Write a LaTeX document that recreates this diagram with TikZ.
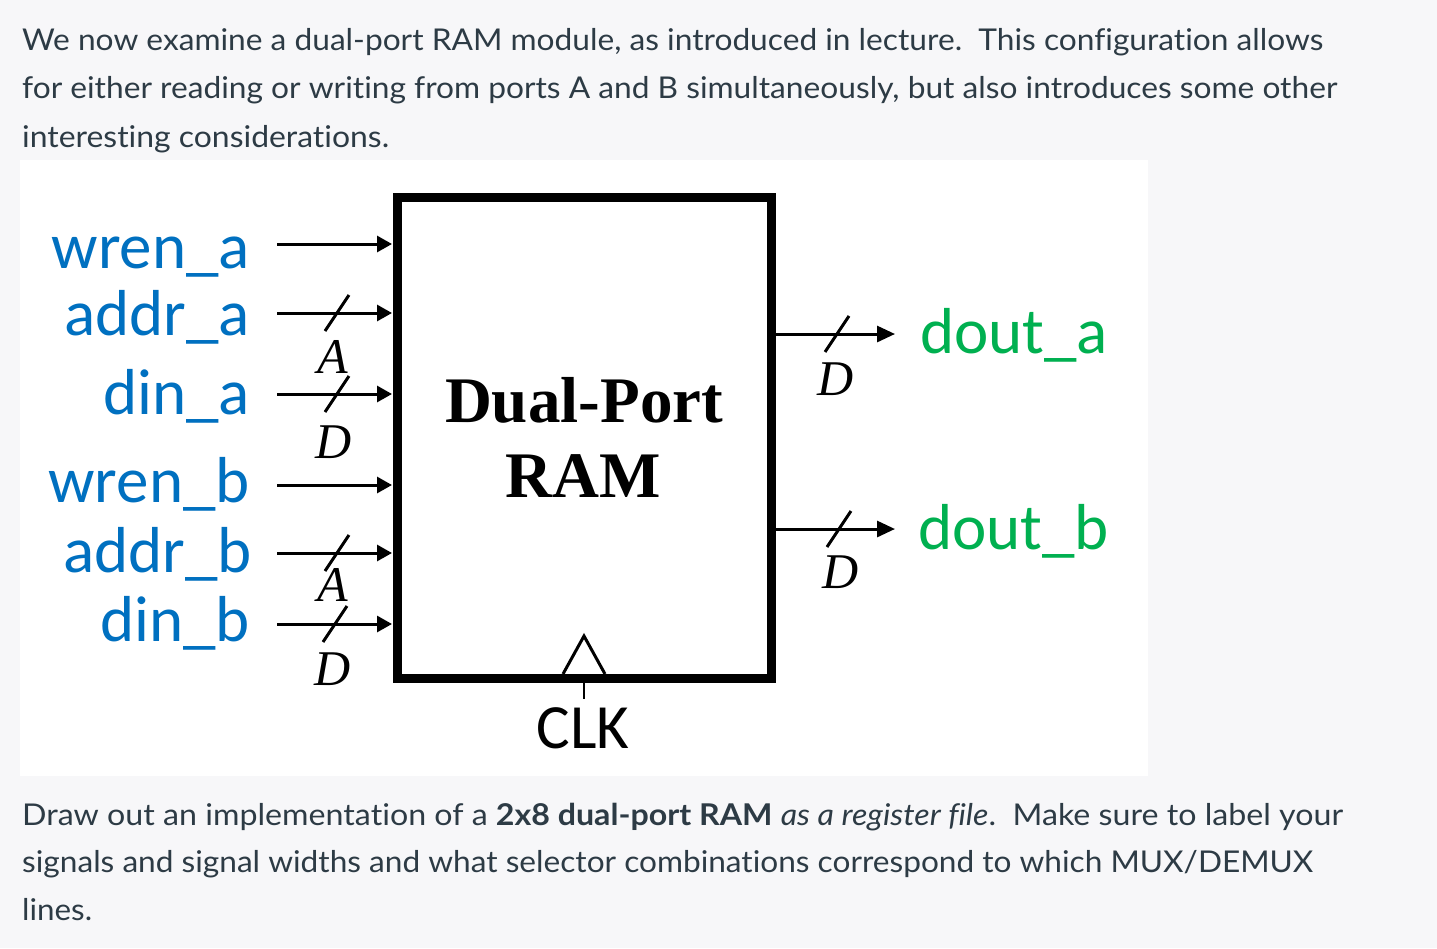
\documentclass[tikz,border=0pt]{standalone}
\usepackage{fontspec}
\usepackage{graphicx}
\setmainfont{Lato}[Ligatures={NoCommon,NoRare,NoContextual}]
\newfontfamily\calfont{Carlito}
\newfontfamily\tnrfont{Liberation Serif}
\usetikzlibrary{arrows.meta}
\definecolor{pagebg}{HTML}{F7F7F9}
\definecolor{bodytext}{HTML}{2D3B45}
\definecolor{sigblue}{HTML}{0070C0}
\definecolor{siggreen}{HTML}{00B050}
\tikzset{
  bodyline/.style={anchor=base west, inner sep=0pt, text=bodytext, font=\fontsize{30}{30}\selectfont},
  inlbl/.style={anchor=base east, inner sep=0pt, text=sigblue, font=\calfont\fontsize{65}{65}\selectfont},
  outlbl/.style={anchor=base west, inner sep=0pt, text=siggreen, font=\calfont\fontsize{65}{65}\selectfont},
  widthlbl/.style={inner sep=0pt, font=\tnrfont\itshape\fontsize{50}{50}\selectfont},
  sig/.style={line width=3pt, -{Triangle[length=15pt,width=16pt]}},
  busslash/.style={line width=3pt},
  ramedge/.style={line width=9pt},
  titletext/.style={inner sep=0pt, anchor=base, font=\tnrfont\bfseries\fontsize{65}{65}\selectfont},
}
\begin{document}
\begin{tikzpicture}[x=1pt,y=-1pt]
\useasboundingbox (0,0) rectangle (1437,948);
\fill[pagebg] (0,0) rectangle (1437,948);
\fill[white] (20,160) rectangle (1148,776);

% body text
\node[bodyline] (t1) at (22,50) {\resizebox{1301pt}{\height}{We now examine a dual-port RAM module, as introduced in lecture.\ \ This configuration allows}};
\node[bodyline] (t2) at (22,98) {\resizebox{1315pt}{\height}{for either reading or writing from ports A and B simultaneously, but also introduces some other}};
\node[bodyline] (t3) at (22,147) {\resizebox{367pt}{\height}{interesting considerations.}};
\node[bodyline] (t4) at (22,825) {\resizebox{1321pt}{\height}{Draw out an implementation of a \textbf{2x8 dual-port RAM} \textit{as a register file}.\ \ Make sure to label your}};
\node[bodyline] (t5) at (22,872) {\resizebox{1291pt}{\height}{signals and signal widths and what selector combinations correspond to which MUX/DEMUX}};
\node[bodyline] (t6) at (22,920) {\resizebox{70pt}{\height}{lines.}};

% RAM block
\draw[ramedge] (397,197) rectangle (771,678);
\node[titletext] (title1) at (584,422) {Dual-Port};
\node[titletext] (title2) at (583,497) {RAM};

% input ports
\coordinate (iwa) at (392,244);
\coordinate (iaa) at (392,313);
\coordinate (ida) at (392,394);
\coordinate (iwb) at (392,485);
\coordinate (iab) at (392,553);
\coordinate (idb) at (392,624);

\node[inlbl] (wa) at (250,268) {wren\_a};
\node[inlbl] (aa) at (250,335) {addr\_a};
\node[inlbl] (da) at (250,414) {din\_a};
\node[inlbl] (wb) at (250,502) {wren\_b};
\node[inlbl] (ab) at (252,572) {addr\_b};
\node[inlbl] (db) at (250,641) {din\_b};

\coordinate (swa) at (277,244);
\coordinate (saa) at (277,313);
\coordinate (sda) at (277,394);
\coordinate (swb) at (277,485);
\coordinate (sab) at (277,553);
\coordinate (sdb) at (277,624);

\draw[sig] (swa) -- (iwa);
\draw[sig] (saa) -- (iaa);
\draw[sig] (sda) -- (ida);
\draw[sig] (swb) -- (iwb);
\draw[sig] (sab) -- (iab);
\draw[sig] (sdb) -- (idb);

\draw[busslash] (325,331) -- (349,295);
\draw[busslash] (325,412) -- (349,376);
\draw[busslash] (325,571) -- (349,535);
\draw[busslash] (323,642) -- (347,606);

\node[widthlbl] (wA1) at (333,357) {A};
\node[widthlbl] (wD1) at (334,442) {D};
\node[widthlbl] (wA2) at (333,585) {A};
\node[widthlbl] (wD2) at (333,669) {D};

% outputs
\coordinate (oa) at (776,334);
\coordinate (ob) at (776,529);
\coordinate (ea) at (895,334);
\coordinate (eb) at (895,529);
\draw[sig,-{Triangle[length=18pt,width=16pt]}] (oa) -- (ea);
\draw[sig,-{Triangle[length=18pt,width=16pt]}] (ob) -- (eb);
\draw[busslash] (825,352) -- (849,316);
\draw[busslash] (827,547) -- (851,511);
\node[widthlbl] (wD3) at (836,379) {D};
\node[widthlbl] (wD4) at (841,572) {D};
\node[outlbl] (doa) at (920,353) {dout\_a};
\node[outlbl] (dob) at (918,549) {dout\_b};

% clock
\coordinate (ck1) at (563,674);
\coordinate (ck2) at (584,636);
\coordinate (ck3) at (605,674);
\draw[line width=3pt, line join=miter] (ck1) -- (ck2) -- (ck3);
\coordinate (tk1) at (584,682);
\coordinate (tk2) at (584,699);
\draw[line width=2.5pt] (tk1) -- (tk2);
\node[inner sep=0pt, anchor=base, font=\calfont\fontsize{63}{63}\selectfont] (clk) at (583,748) {CLK};
\end{tikzpicture}
\end{document}
